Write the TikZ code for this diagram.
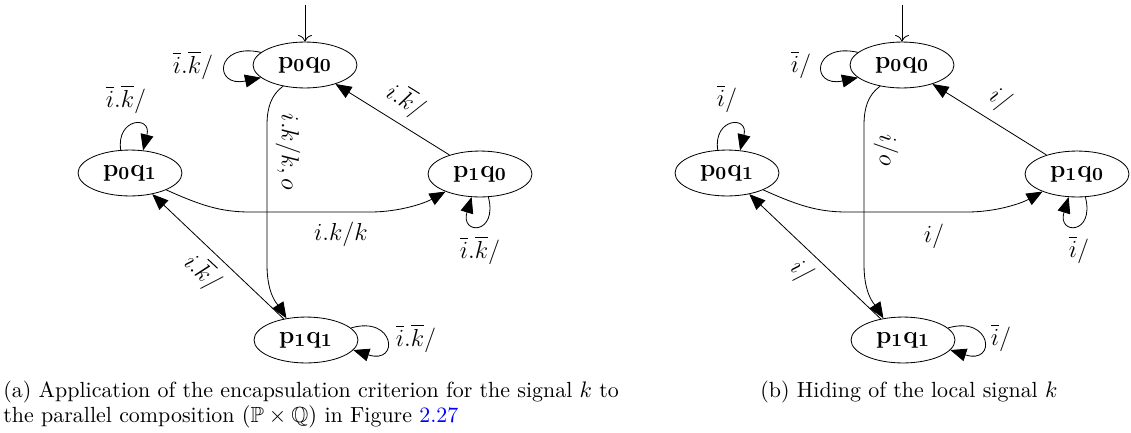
\documentclass[tikz,border=0pt]{standalone}
\usepackage{amssymb}
\usetikzlibrary{shapes.geometric,arrows.meta}
\begin{document}
\begin{tikzpicture}[x=0.4878pt,y=-0.4878pt,
  state/.style={ellipse,draw,minimum width=50.7pt,minimum height=22.4pt,inner sep=0pt,font=\fontsize{12.8}{15}\selectfont},
  trans/.style={-{Triangle[length=7.8pt,width=6.3pt]}},
  initarr/.style={-{To[scale=1.3]}},
  lbl/.style={inner sep=0pt,font=\fontsize{12.6}{15}\selectfont},
  captext/.style={inner sep=0pt,anchor=base west,font=\fontsize{10.7}{13}\selectfont}]
\useasboundingbox (0,0) rectangle (1131,432);

% ---------- (a) ----------
\node[state] (a00) at (305,65) {$\mathbf{p_0q_0}$};
\node[state] (a01) at (130,173) {$\mathbf{p_0q_1}$};
\node[state] (a10) at (480,174) {$\mathbf{p_1q_0}$};
\node[state] (a11) at (306,340) {$\mathbf{p_1q_1}$};
\coordinate (ai) at (305,5);
\draw[initarr] (ai) -- (a00);

\draw[trans] (a00.224) .. controls (271,95) and (267,108) .. (267,125) -- (267,265) .. controls (267,295) and (278,305) .. (a11.132);
\draw[trans] (a10) -- (a00);
\draw[trans] (a11) -- (a01);
\draw[trans] (a01.-25) .. controls (200,205) and (220,212) .. (250,212) -- (370,212) .. controls (400,212) and (425,203) .. (a10.207);
\draw[trans] (a00.164) .. controls (215,42) and (213,88) .. (a00.196);
\draw[trans] (a01.112) .. controls (116,118) and (152,115) .. (a01.60);
\draw[trans] (a10.-70) .. controls (498,235) and (460,235) .. (a10.-110);
\draw[trans] (a11.15) .. controls (395,315) and (400,365) .. (a11.-12);

\node[lbl] (la1) at (193,65) {$\overline{i}.\overline{k}/$};
\node[lbl] (la2) at (126,99) {$\overline{i}.\overline{k}/$};
\node[lbl,rotate=-90] (la3) at (288,152) {$i.k/k,o$};
\node[lbl,rotate=-32] (la4) at (406,100) {$i.\overline{k}/$};
\node[lbl] (la5) at (341,234) {$i.k/k$};
\node[lbl,rotate=-43] (la6) at (203,272) {$i.\overline{k}/$};
\node[lbl] (la7) at (416,338) {$\overline{i}.\overline{k}/$};
\node[lbl] (la8) at (480,250) {$\overline{i}.\overline{k}/$};

% ---------- (b) ----------
\begin{scope}[shift={(597,0)}]
\node[state] (b00) at (305,65) {$\mathbf{p_0q_0}$};
\node[state] (b01) at (130,173) {$\mathbf{p_0q_1}$};
\node[state] (b10) at (480,174) {$\mathbf{p_1q_0}$};
\node[state] (b11) at (306,340) {$\mathbf{p_1q_1}$};
\coordinate (bi) at (305,5);
\draw[initarr] (bi) -- (b00);

\draw[trans] (b00.224) .. controls (271,95) and (267,108) .. (267,125) -- (267,265) .. controls (267,295) and (278,305) .. (b11.132);
\draw[trans] (b10) -- (b00);
\draw[trans] (b11) -- (b01);
\draw[trans] (b01.-25) .. controls (200,205) and (220,212) .. (250,212) -- (370,212) .. controls (400,212) and (425,203) .. (b10.207);
\draw[trans] (b00.164) .. controls (215,42) and (213,88) .. (b00.196);
\draw[trans] (b01.112) .. controls (116,118) and (152,115) .. (b01.60);
\draw[trans] (b10.-70) .. controls (498,235) and (460,235) .. (b10.-110);
\draw[trans] (b11.15) .. controls (395,315) and (400,365) .. (b11.-12);

\node[lbl] (lb1) at (204,65) {$\overline{i}/$};
\node[lbl] (lb2) at (130,99) {$\overline{i}/$};
\node[lbl,rotate=-90] (lb3) at (289,150) {$i/o$};
\node[lbl,rotate=-32] (lb4) at (403,100) {$i/$};
\node[lbl] (lb5) at (337,236) {$i/$};
\node[lbl,rotate=-43] (lb6) at (204,272) {$i/$};
\node[lbl] (lb7) at (404,338) {$\overline{i}/$};
\node[lbl] (lb8) at (482,250) {$\overline{i}/$};
\end{scope}

% ---------- captions ----------
\node[captext] (capa1) at (3,397) {(a) Application of the encapsulation criterion for the signal $k$ to};
\node[captext] (capa2) at (3,422) {the parallel composition $(\mathbb{P}\times\mathbb{Q})$ in Figure \textcolor{blue}{2.27}};
\node[captext] (capb) at (760,397) {(b) Hiding of the local signal $k$};
\end{tikzpicture}
\end{document}
